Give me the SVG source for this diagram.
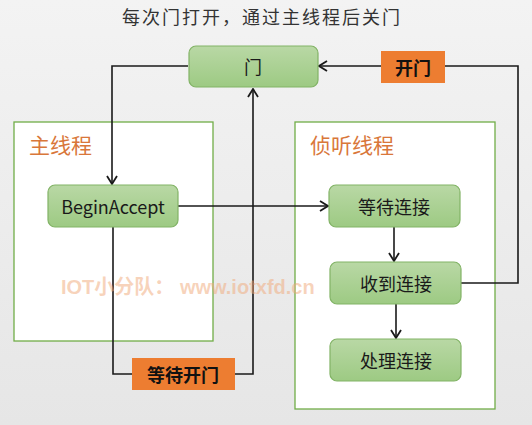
<svg xmlns="http://www.w3.org/2000/svg" width="532" height="425" viewBox="0 0 532 425">
<defs>
<linearGradient id="bg" x1="0" y1="0" x2="0" y2="1"><stop offset="0" stop-color="#f3f3f3"/><stop offset="1" stop-color="#e6e6e6"/></linearGradient>
<linearGradient id="ng" x1="0" y1="0" x2="0" y2="1"><stop offset="0" stop-color="#b9d8a5"/><stop offset="1" stop-color="#9dca83"/></linearGradient>
<marker id="arr" markerWidth="10" markerHeight="12" refX="9" refY="6" orient="auto" markerUnits="userSpaceOnUse">
<path d="M1,1 L9,6 L1,11" fill="none" stroke="#1a1a1a" stroke-width="1.8"/>
</marker>
<style>
.node{fill:url(#ng);stroke:#82b366;stroke-width:1.2}
.lane{fill:#ffffff;stroke:#70ad47;stroke-width:1.3}
.nt{font-family:"Noto Sans CJK SC","Liberation Sans",sans-serif;font-size:18px;fill:#1a1a1a;text-anchor:middle;dominant-baseline:central}
.lt{font-family:"Noto Sans CJK SC",sans-serif;font-size:21px;fill:#d9773a;}
.lab{fill:#ed7d31}
.labt{font-family:"Noto Sans CJK SC",sans-serif;font-size:18px;font-weight:bold;fill:#111;text-anchor:middle;dominant-baseline:central}
.ln{fill:none;stroke:#1a1a1a;stroke-width:1.6}
</style>
</defs>
<rect width="532" height="425" fill="url(#bg)"/>
<text x="262" y="24" font-family="Noto Sans CJK SC,sans-serif" font-size="18" letter-spacing="2" fill="#333" text-anchor="middle">每次门打开，通过主线程后关门</text>

<g id="lane-main"><rect class="lane" x="14" y="122" width="199" height="219"/><text class="lt" x="29" y="153">主线程</text></g>
<g id="lane-listen"><rect class="lane" x="295" y="122" width="200" height="287"/><text class="lt" x="310" y="153">侦听线程</text></g>

<g id="connectors">
<path class="ln" d="M188,66 H112 V184" marker-end="url(#arr)"/>
<path class="ln" d="M461,283 H518 V66 H319" marker-end="url(#arr)"/>
<path class="ln" d="M178,206 H328" marker-end="url(#arr)"/>
<path class="ln" d="M113,227 V374 H253 V89" marker-end="url(#arr)"/>
<path class="ln" d="M394,227 V261" marker-end="url(#arr)"/>
<path class="ln" d="M396,304 V338" marker-end="url(#arr)"/>
</g>

<g id="door"><rect class="node" x="189" y="46" width="129" height="41" rx="7"/><text class="nt" x="253" y="66">门</text></g>
<g id="begin"><rect class="node" x="48" y="185" width="130" height="42" rx="7"/><text class="nt" x="113" y="206" font-family="Liberation Sans,sans-serif" font-size="17">BeginAccept</text></g>
<g id="wait-conn"><rect class="node" x="329" y="185" width="131" height="42" rx="7"/><text class="nt" x="394" y="206">等待连接</text></g>
<g id="recv-conn"><rect class="node" x="330" y="262" width="131" height="42" rx="7"/><text class="nt" x="396" y="283">收到连接</text></g>
<g id="proc-conn"><rect class="node" x="330" y="339" width="131" height="42" rx="7"/><text class="nt" x="396" y="360">处理连接</text></g>

<g id="label-open"><rect class="lab" x="381" y="51" width="64" height="32"/><text class="labt" x="413" y="67">开门</text></g>
<g id="label-wait"><rect class="lab" x="132" y="358" width="103" height="32"/><text class="labt" x="183" y="374">等待开门</text></g>

<text x="61" y="294" font-family="Liberation Sans,Noto Sans CJK SC,sans-serif" font-size="20" font-weight="bold" fill="#f0a878" fill-opacity="0.5">IOT小分队： www.iotxfd.cn</text>
</svg>
